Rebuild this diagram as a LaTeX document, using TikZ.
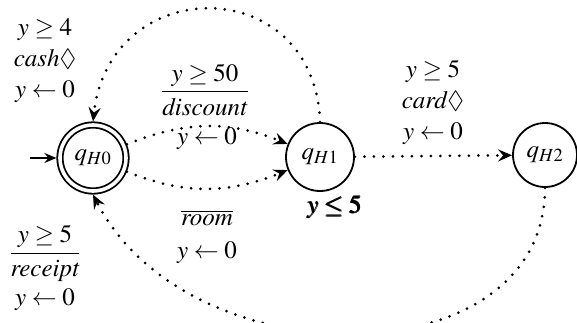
\documentclass[tikz,border=0pt]{standalone}
\usepackage{amsmath}
\usepackage{mathptmx}
\usepackage{amssymb}
\usetikzlibrary{arrows.meta}
\begin{document}
\begin{tikzpicture}[x=1pt,y=1pt,
  every node/.style={font=\fontsize{25}{31}\selectfont, inner sep=0pt},
  state/.style={circle, draw, line width=1.8pt, inner sep=0pt},
  dotline/.style={line width=3pt, line cap=round, dash pattern=on 0pt off 9.5pt},
  tip/.style={-{Stealth[length=14pt,width=12pt,inset=5pt]}},
  lbl/.style={align=center}
]
\useasboundingbox (0,0) rectangle (577,322);
\node[state, minimum size=66pt, double, double distance=3.6pt, outer sep=3.6pt] (H0) at (93,164) {$q_{H0}$};
\node[state, minimum size=68pt] (H1) at (320,165) {$q_{H1}$};
\node[state, minimum size=64pt] (H2) at (545,167) {$q_{H2}$};
\coordinate (init) at (30,164);
\draw[line width=2pt, -{Stealth[length=12pt,width=10pt,inset=4pt]}] (init) -- (H0.west);
\draw[dotline, tip] (H0) to[out=22,in=158] (H1);
\draw[dotline, tip] (H0) to[out=-22,in=-158] (H1);
\draw[dotline, tip] (H1) -- (H2);
\draw[dotline, tip] (H1.north) .. controls +(-5,150) and +(17,150) .. (H0.north);
\draw[dotline, tip] (H2.south) .. controls +(0,-192) and +(95,-186) .. (H0.south);
\node[lbl] (Lcash) at (45,261) {$y\geq 4$\\$\mathit{cash}\Diamond$\\$y\leftarrow 0$};
\node (Ldisc) at (205,232) {$\dfrac{y\geq 50}{\mathit{discount}}$};
\node (Ldr) at (207,183) {$y\leftarrow 0$};
\node (Lroom) at (207,104) {$\overline{\mathit{room}}$};
\node (Lrr) at (207,69) {$y\leftarrow 0$};
\node (Linv) at (335,115) {$\pmb{y\leq 5}$};
\node[lbl] (Lcard) at (433,219) {$y\geq 5$\\$\mathit{card}\Diamond$\\$y\leftarrow 0$};
\node (Lrec) at (45,68) {$\dfrac{y\geq 5}{\mathit{receipt}}$};
\node (Lrr2) at (45,22) {$y\leftarrow 0$};
\end{tikzpicture}
\end{document}
